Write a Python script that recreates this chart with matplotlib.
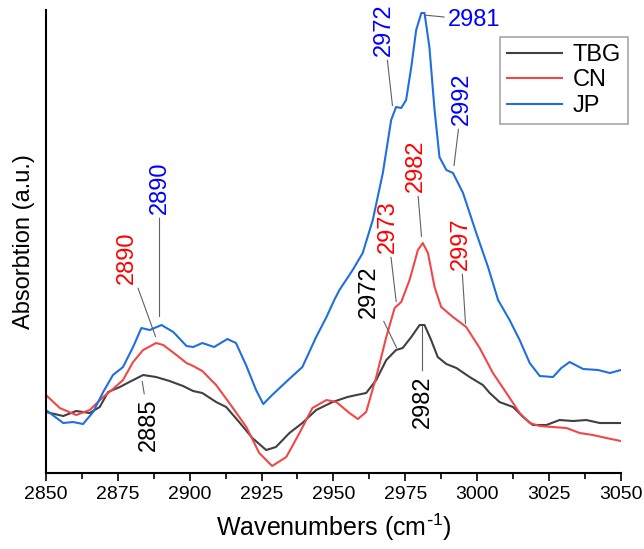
import matplotlib
matplotlib.use("Agg")
import matplotlib.pyplot as plt
from matplotlib.ticker import MultipleLocator, NullLocator

plt.rcParams['font.family'] = ['Liberation Sans', 'DejaVu Sans']

# spectra (arbitrary absorbance units)
x_tbg = [2850, 2856, 2860.5, 2865.2, 2868.7, 2871.6, 2875.7, 2879, 2883.8, 2888.3, 2893, 2897.7,
         2901.2, 2904.4, 2909.2, 2912.7, 2917.2, 2921.8, 2926.6, 2930, 2934.7, 2939.2, 2944,
         2949.7, 2954.9, 2958, 2961.4, 2964.9, 2968.4, 2971.8, 2974.1, 2977.1, 2980, 2981.7,
         2984, 2986.3, 2989.3, 2992.8, 2997.4, 3002, 3004.4, 3007.8, 3012.5, 3016, 3019.4,
         3024.1, 3028.7, 3033.4, 3038, 3042.7, 3050]
y_tbg = [68, 64, 69, 67, 73, 88, 93, 98, 105, 103, 99, 94,
         89, 87, 78, 73, 58, 42, 30, 33, 47, 57, 70,
         78, 83, 85, 87, 100, 120, 130, 132, 143, 155, 155,
         140, 123, 116, 112, 103, 95, 87, 78, 73, 63, 55,
         55, 60, 59, 60, 57, 57]

x_cn = [2850, 2854.8, 2860.5, 2865.2, 2869.9, 2873.3, 2876.8, 2880.3, 2883.8, 2888.3, 2890.8,
        2895.4, 2898.9, 2901.2, 2904.4, 2909.2, 2914.8, 2919.7, 2924.2, 2928.7, 2933.6, 2938.2,
        2942.7, 2947.6, 2951, 2955.6, 2958.5, 2961.4, 2964.9, 2968.4, 2971.3, 2973.6, 2976.5,
        2979.4, 2981.1, 2982.9, 2985.2, 2987.5, 2991.6, 2996.2, 3000.9, 3005.5, 3010.2, 3014.8,
        3018.3, 3021.8, 3026.4, 3031.1, 3035.7, 3040.3, 3045, 3050]
y_cn = [85, 72, 65, 70, 83, 91, 100, 118, 130, 137, 135,
        125, 117, 114, 109, 95, 73, 53, 27, 14, 23, 47,
        72, 80, 78, 67, 61, 68, 103, 143, 172, 178, 200,
        230, 237, 227, 193, 173, 163, 153, 132, 107, 87, 67,
        57, 54, 53, 52, 47, 45, 42, 39]

x_jp = [2850, 2856, 2859.4, 2862.9, 2866.4, 2869.9, 2873.3, 2876.8, 2880.3, 2883.2, 2886.1,
        2890.2, 2894.3, 2898.9, 2901.2, 2904.4, 2908.5, 2913.1, 2916.1, 2919.6, 2923.1, 2925.6,
        2928.7, 2933.5, 2939.2, 2944, 2947.6, 2950.3, 2952.1, 2956.7, 2960.2, 2963.7, 2967.2,
        2970.1, 2971.8, 2973.6, 2975.3, 2977.1, 2978.8, 2980.6, 2981.7, 2983.4, 2985.2, 2986.9,
        2989.3, 2991.6, 2995.1, 2999.7, 3003.8, 3007.3, 3011.3, 3014.8, 3018.3, 3021.8, 3026.4,
        3029.3, 3032.2, 3036.9, 3042.1, 3046.2, 3050]
y_jp = [70, 57, 58, 56, 68, 88, 105, 113, 133, 152, 150,
        155, 148, 134, 133, 137, 133, 141, 137, 115, 90, 76,
        85, 98, 113, 143, 163, 180, 190, 210, 227, 260, 307,
        360, 373, 372, 380, 413, 450, 467, 467, 433, 370, 323,
        310, 307, 287, 247, 213, 180, 160, 140, 117, 104, 103,
        112, 118, 111, 110, 107, 110]

names = ['TBG', 'CN', 'JP']
line_colors = ['#404040', '#f04848', '#1f6fe0']
text_colors = ['black', 'red', 'blue']

# peak labels: (label, series index, peak point, text point, rotation)
peaks = [
    ('2885', 0, (2883.4, 100), (2885.9, 82), 90),
    ('2890', 1, (2888.3, 142), (2878.2, 196), 90),
    ('2890', 2, (2889.5, 162), (2889.5, 266), 90),
    ('2972', 0, (2972.2, 131), (2962.5, 162), 90),
    ('2982', 0, (2981.0, 155), (2981.0, 105), 90),
    ('2973', 1, (2971.9, 177), (2968.8, 227), 90),
    ('2982', 1, (2980.7, 242), (2978.6, 288), 90),
    ('2997', 1, (2996.0, 155), (2994.2, 210), 90),
    ('2972', 2, (2970.6, 373), (2967.6, 424), 90),
    ('2981', 2, (2981.3, 465), (2990.0, 460), 0),
    ('2992', 2, (2991.9, 313), (2994.8, 355), 90),
]

fig = plt.figure(figsize=(6.44, 5.49), dpi=100)
ax = fig.add_axes([0.0714, 0.1384, 0.8926, 0.8434])

for xs, ys, name, c in zip([x_tbg, x_cn, x_jp], [y_tbg, y_cn, y_jp], names, line_colors):
    ax.plot(xs, ys, color=c, lw=1.5, label=name, solid_joinstyle='round')

for label, i, xy, xytext, rot in peaks:
    if rot == 90:
        ha, va = 'center', ('bottom' if xytext[1] > xy[1] else 'top')
    else:
        ha, va = 'left', 'center'
    ax.annotate(label, xy=xy, xytext=xytext, color=text_colors[i], fontsize=17,
                rotation=rot, ha=ha, va=va,
                arrowprops=dict(arrowstyle='-', color='#606060', lw=0.8,
                                shrinkA=1, shrinkB=1))

ax.set_xlim(2850, 3050)
ax.set_ylim(7, 470)
ax.xaxis.set_major_locator(MultipleLocator(25))
ax.xaxis.set_minor_locator(MultipleLocator(12.5))
ax.yaxis.set_major_locator(NullLocator())
ax.tick_params(axis='x', which='major', direction='out', length=6, width=1.2, labelsize=14)
ax.tick_params(axis='x', which='minor', direction='out', length=4, width=1.2)
for s in ['top', 'right']:
    ax.spines[s].set_visible(False)
for s in ['left', 'bottom']:
    ax.spines[s].set_linewidth(1.5)

ax.set_xlabel('Wavenumbers (cm$^{\\text{-}\\mathregular{1}}$)', fontsize=18, labelpad=6)
ax.set_ylabel('Absorbtion (a.u.)', fontsize=17, labelpad=8)

leg = ax.legend(loc='upper right', bbox_to_anchor=(1.012, 0.942), borderaxespad=0,
                fontsize=17, frameon=True, fancybox=False, edgecolor='#909090',
                handlelength=2.33, handletextpad=0.42, borderpad=0.3, labelspacing=0.15)
leg.get_frame().set_linewidth(1.2)

fig.savefig('out.png', dpi=100)
